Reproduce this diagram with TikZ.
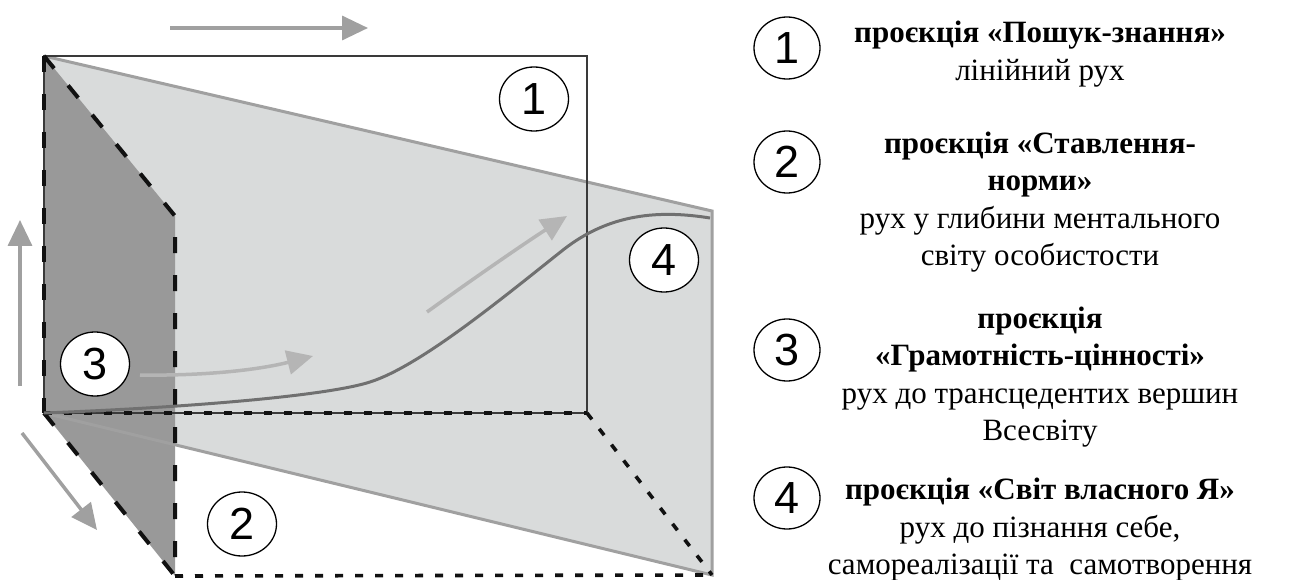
\documentclass[tikz,border=0pt]{standalone}
\usepackage{fontspec}
\setmainfont{Liberation Serif}
\newfontfamily\digitfont{Liberation Sans}
\usetikzlibrary{arrows.meta,shapes.geometric}

\definecolor{darkplane}{HTML}{999999}
\definecolor{lightplane}{HTML}{D9DBDB}
\definecolor{planeedge}{HTML}{A0A0A0}
\definecolor{curvecol}{HTML}{707070}
\definecolor{arrowlight}{HTML}{B5B5B5}
\definecolor{arrowmid}{HTML}{A0A0A0}
\definecolor{rectcol}{HTML}{3A3A3A}
\definecolor{dashcol}{HTML}{111111}

\begin{document}
\begin{tikzpicture}[x=1pt,y=-1pt,
  num/.style={ellipse,draw=black,line width=1.3pt,fill=white,minimum width=69pt,minimum height=64pt,inner sep=0pt,font=\digitfont\fontsize{45}{45}\selectfont},
  legnum/.style={num,minimum width=66pt,minimum height=62pt},
  legtext/.style={align=center,font=\fontsize{31}{37.5}\selectfont},
  thickdash/.style={draw=dashcol,line width=4pt,dash pattern=on 16pt off 22pt},
  floordash/.style={draw=dashcol,line width=3.6pt,dash pattern=on 8pt off 12pt},
  planeline/.style={draw=planeedge,line width=3pt,line join=miter},
  thinrect/.style={draw=rectcol,line width=1.1pt},
  movearrow/.style={line width=3.5pt,-{Triangle[length=26pt,width=24pt]}},
]
\useasboundingbox (0,0) rectangle (1304,580);

% key points
\coordinate (A) at (44,56);
\coordinate (O) at (44,413);
\coordinate (P) at (175,216);
\coordinate (Q) at (175,576);
\coordinate (R) at (587,413);
\coordinate (U) at (587,56);
\coordinate (T) at (712,211);
\coordinate (S) at (712,575);

% planes
\fill[lightplane] (A) -- (T) -- (S) -- (O) -- cycle;
\fill[darkplane] (A) -- (P) -- (Q) -- (O) -- cycle;
\draw[planeline] (A) -- (T) -- (S) -- (O);

% projection rectangle 1
\draw[thinrect] (O) -- (A) -- (U) -- (R) -- (O);

% dashed edges
\draw[thickdash] (A) -- (O);
\draw[thickdash] (A) -- (P) -- (Q);
\draw[thickdash] (O) -- (Q);
\draw[floordash] (O) -- (R);
\draw[floordash] (R) -- (S);
\draw[floordash] (Q) -- (S);

% main curve
\coordinate (C1) at (370,382);
\coordinate (C2) at (563,250);
\coordinate (C3) at (710,218);
\draw[curvecol,line width=3pt] (O) .. controls (200,407) and (330,395) .. (C1)
  .. controls (420,366) and (500,300) .. (C2)
  .. controls (610,213) and (660,210) .. (C3);

% light arrows
\coordinate (a3s) at (140,375);
\coordinate (a3e) at (313,356);
\coordinate (a4s) at (427,312);
\coordinate (a4e) at (567,216);
\draw[movearrow,arrowlight] (a3s) .. controls (210,376) and (262,369) .. (a3e);
\draw[movearrow,arrowlight] (a4s) .. controls (470,281) and (522,245) .. (a4e);

% axis arrows
\coordinate (ts) at (170,28);
\coordinate (te) at (368,28);
\coordinate (ls) at (20,386);
\coordinate (le) at (20,220);
\coordinate (ds) at (22,433);
\coordinate (de) at (97,530);
\draw[movearrow,arrowmid] (ts) -- (te);
\draw[movearrow,arrowmid] (ls) -- (le);
\draw[movearrow,arrowmid] (ds) -- (de);

% numbered circles in the diagram
\node[num] (n1) at (534,99) {1};
\node[num] (n2) at (242,524) {2};
\node[num] (n3) at (95,364) {3};
\node[num] (n4) at (664,260) {4};

% legend
\node[legnum] (l1) at (787,48) {1};
\node[legnum] (l2) at (787,162) {2};
\node[legnum] (l3) at (787,350) {3};
\node[legnum] (l4) at (787,498) {4};

\node[legtext] (t1) at (1040,54) {\textbf{проєкція «Пошук-знання»}\\лінійний рух};
\node[legtext] (t2) at (1040,202) {\textbf{проєкція «Ставлення-}\\\textbf{норми»}\\рух у глибини ментального\\світу особистости};
\node[legtext] (t3) at (1040,377) {\textbf{проєкція}\\\textbf{«Грамотність-цінності»}\\рух до трансцедентих вершин\\Всесвіту};
\node[legtext] (t4) at (1040,530) {\textbf{проєкція «Світ власного Я»}\\рух до пізнання себе,\\самореалізації та\ \ самотворення};
\end{tikzpicture}
\end{document}
